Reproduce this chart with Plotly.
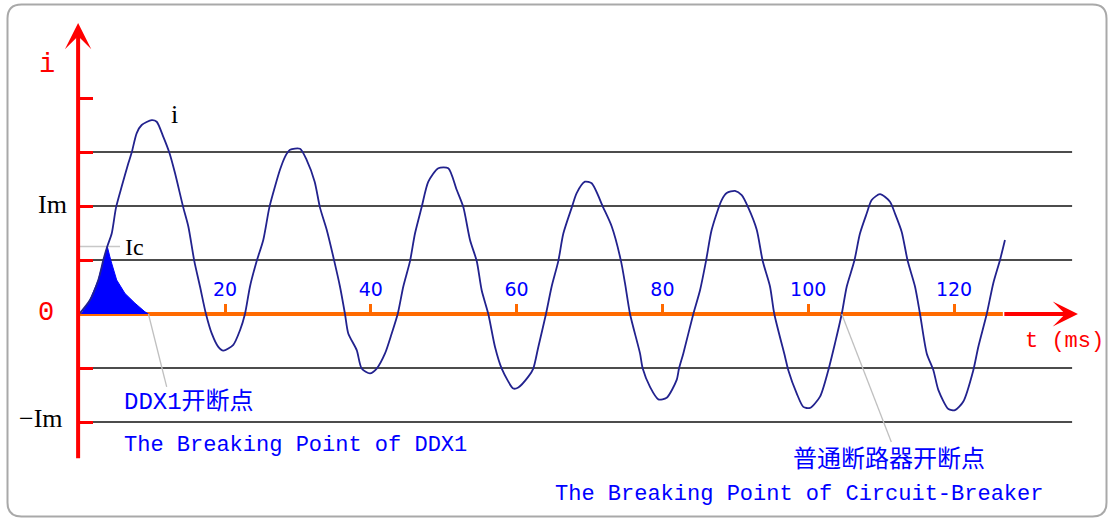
import plotly.graph_objects as go

# ---------------- data (t in ms, current in grid units; Im = 2 units) ----------------
wave_t = [0, 1.48, 2.62, 3.31, 3.85, 4.46, 5.05, 5.83, 6.74, 7.20, 7.89, 8.57, 9.95, 10.63, 11.54, 12.36, 13.14,
          14.28, 14.97, 15.79, 16.57, 17.39, 18.18, 19.08, 19.77,
          21.14, 22.06, 22.74, 23.43, 24.35, 25.25, 26.08, 26.86, 27.54, 28.23, 28.92, 30.29, 31.21, 32.3, 33.03,
          33.95, 34.99, 35.77, 36.46, 36.91, 38.07, 38.75, 39.89, 40.81,
          41.95, 42.87, 43.69, 44.46, 45.38, 46.06, 46.98, 47.89, 49.26, 50.63, 51.78, 52.69, 53.61, 54.53, 55.21,
          56.12, 57.04, 57.96, 59.55, 60.23, 61.61,
          62.29, 62.98, 64.03, 64.81, 65.72, 66.41, 67.56, 68.24, 69.38, 70.30, 71.89, 73.05, 74.32, 74.87, 75.56,
          76.93, 77.30, 78.30, 79.44, 80.59, 81.96,
          82.28, 82.87, 84.24, 85.16, 85.98, 86.76, 88.13, 88.82, 89.96, 90.88, 91.78, 92.94, 93.76, 94.76, 95.35,
          96.82, 97.27, 98.42, 99.33, 100.25, 101.62,
          102.76, 103.68, 104.60, 105.29, 106.32, 107.10, 108.02, 108.71, 109.85, 111.22, 111.91, 112.83, 113.65,
          114.65, 115.34, 116.26, 117.17, 117.86, 119.23, 120.14, 121.28, 122.65, 123.33, 124.49, 125.39, 126.31,
          126.99]
wave_i = [0, 0.26, 0.63, 1.0, 1.25, 1.49, 1.97, 2.36, 2.79, 2.99, 3.35, 3.50, 3.59, 3.56, 3.28, 2.99, 2.61,
          1.97, 1.62, 0.98, 0.51, 0.0, -0.36, -0.61, -0.68,
          -0.57, -0.30, 0.0, 0.51, 0.98, 1.37, 1.97, 2.36, 2.67, 2.91, 3.04, 3.06, 2.85, 2.45, 1.97,
          1.56, 0.98, 0.51, 0.0, -0.36, -0.67, -1.01, -1.10, -1.01,
          -0.73, -0.36, 0.0, 0.51, 0.98, 1.49, 1.98, 2.45, 2.70, 2.70, 2.30, 1.98, 1.37, 0.98, 0.44,
          0.0, -0.61, -1.01, -1.38, -1.36, -1.16,
          -1.01, -0.61, 0.0, 0.51, 0.98, 1.49, 1.97, 2.24, 2.45, 2.42, 1.97, 1.62, 0.98, 0.57, 0.0,
          -0.73, -1.01, -1.35, -1.58, -1.55, -1.22,
          -1.01, -0.73, 0.0, 0.44, 0.98, 1.56, 2.11, 2.24, 2.28, 2.20, 1.97, 1.56, 0.98, 0.51, 0.0,
          -0.79, -1.04, -1.47, -1.72, -1.74, -1.53,
          -1.04, -0.54, 0.0, 0.51, 0.98, 1.49, 1.86, 2.11, 2.22, 2.08, 1.86, 1.52, 0.98,
          0.51, 0.0, -0.73, -1.04, -1.41, -1.76, -1.78, -1.62, -1.04, -0.61, 0.0, 0.57, 1.00,
          1.37]

# DDX1 let-through current (filled area)
ddx1_t = [0.3, 1.48, 2.62, 3.31, 3.85, 4.32, 5.14, 6.28, 7.65, 9.02, 9.5]
ddx1_i = [0, 0.26, 0.63, 1.0, 1.25, 1.0, 0.63, 0.38, 0.20, 0.04, 0]

grid_levels = [3, 2, 1, -1, -2]
x_tick_vals = [20, 40, 60, 80, 100, 120]
y_tick_vals = [-2, -1, 1, 2, 3, 4]
Im = 2
Ic = 1.25
ddx1_break = 9.5
cb_break = 104.6

# ---------------- geometry / style ----------------
W, H = 1114, 521
PX0, PX_PER_MS = 79.2, 7.29     # pixel of t=0, pixels per ms
PY0, PY_PER_U = 314.0, 54.0     # pixel of i=0, pixels per unit
x_range = [-PX0 / PX_PER_MS, (W - PX0) / PX_PER_MS]
y_range = [(PY0 - H) / PY_PER_U, PY0 / PY_PER_U]

BLUE = "#0000ff"
ORANGE = "#ff6a00"
RED = "#ff0000"
WAVE = "#22228e"
MONO = "Liberation Mono"
SERIF = "Liberation Serif"
CJK = "Liberation Mono, Noto Sans CJK SC"

t_axis = -0.15          # y-axis location (ms)
t_grid0, t_grid1 = 1.76, 136.2
t_orange_end, t_arrow_tip = 126.7, 137.0
i_axis_top, i_axis_bottom = 5.39, -2.70

fig = go.Figure()

fig.add_trace(go.Scatter(x=ddx1_t, y=ddx1_i, mode="lines", fill="toself",
                         fillcolor=BLUE, line=dict(color=BLUE, width=1),
                         hoverinfo="skip", showlegend=False))
fig.add_trace(go.Scatter(x=wave_t, y=wave_i, mode="lines",
                         line=dict(color=WAVE, width=1.8, shape="spline", smoothing=0.7),
                         hoverinfo="skip", showlegend=False))

shapes = []
for lv in grid_levels:
    shapes.append(dict(type="line", xref="x", yref="y", x0=t_grid0, x1=t_grid1, y0=lv, y1=lv,
                       line=dict(color="#111111", width=1.6), layer="below"))
# orange time axis
shapes.append(dict(type="line", xref="x", yref="y", x0=t_axis, x1=t_orange_end, y0=0, y1=0,
                   line=dict(color=ORANGE, width=4), layer="below"))
# Ic marker line
shapes.append(dict(type="line", xref="x", yref="y", x0=t_axis, x1=5.6, y0=Ic, y1=Ic,
                   line=dict(color="#c8c8c8", width=1.5), layer="below"))
# leader lines to breaking points
shapes.append(dict(type="line", xref="x", yref="y", x0=ddx1_break, y0=0, x1=12.0, y1=-1.35,
                   line=dict(color="#c0c0c0", width=1.3), layer="above"))
shapes.append(dict(type="line", xref="x", yref="y", x0=cb_break, y0=0, x1=111.4, y1=-2.37,
                   line=dict(color="#c0c0c0", width=1.3), layer="above"))

# rounded frame (paper coords)
L, R, T, B, rad = 7.5 / W, 1106.5 / W, 1 - 4.5 / H, 1 - 516.5 / H, 14
rx, ry = rad / W, rad / H
frame = (f"M{L+rx},{T} L{R-rx},{T} Q{R},{T} {R},{T-ry} L{R},{B+ry} Q{R},{B} {R-rx},{B} "
         f"L{L+rx},{B} Q{L},{B} {L},{B+ry} L{L},{T-ry} Q{L},{T} {L+rx},{T} Z")
shapes.append(dict(type="path", xref="paper", yref="paper", path=frame,
                   line=dict(color="#a9a9a9", width=2), layer="above"))

ann = []
# y axis with arrow
ann.append(dict(x=t_axis, y=i_axis_top, ax=t_axis, ay=i_axis_bottom, xref="x", yref="y",
                axref="x", ayref="y", text="", showarrow=True, arrowhead=3, arrowsize=1.1,
                arrowwidth=4, arrowcolor=RED, standoff=0, startstandoff=0))
# red end of time axis with arrow
ann.append(dict(x=t_arrow_tip, y=0, ax=t_orange_end, ay=0, xref="x", yref="y",
                axref="x", ayref="y", text="", showarrow=True, arrowhead=3, arrowsize=1.05,
                arrowwidth=4, arrowcolor=RED, standoff=0, startstandoff=0))


def label(text, x, y, color, size, family, xanchor="center", yanchor="middle"):
    ann.append(dict(x=x, y=y, xref="x", yref="y", text=text, showarrow=False,
                    xanchor=xanchor, yanchor=yanchor,
                    font=dict(color=color, size=size, family=family)))


label("i", -4.4, 4.61, RED, 27, MONO)
label("0", -4.55, 0.02, RED, 27, MONO)
label("Im", -3.73, Im + 0.02, "#000000", 26, SERIF)
label("\u2212Im", -5.24, -Im + 0.06, "#000000", 26, SERIF)
label("Ic", 5.98, Ic, "#000000", 24, SERIF, xanchor="left")
label("i", 13.1, 3.69, "#000000", 26, SERIF)
label("t (ms)", 129.4, -0.5, RED, 22, MONO, xanchor="left")
label("DDX1开断点", 5.87, -1.63, BLUE, 24, CJK, xanchor="left")
label("The Breaking Point of DDX1", 5.87, -2.43, BLUE, 22, MONO, xanchor="left")
label("普通断路器开断点", 97.6, -2.70, BLUE, 24, CJK, xanchor="left")
label("The Breaking Point of Circuit-Breaker", 65.0, -3.35, BLUE, 22, MONO, xanchor="left")

x_pos = (0 - y_range[0]) / (y_range[1] - y_range[0])
y_pos = (t_axis - x_range[0]) / (x_range[1] - x_range[0])

fig.update_layout(
    width=W, height=H, margin=dict(l=0, r=0, t=0, b=0),
    paper_bgcolor="white", plot_bgcolor="white",
    shapes=shapes, annotations=ann, showlegend=False,
    xaxis=dict(range=x_range, anchor="free", position=x_pos, side="top",
               tickmode="array", tickvals=x_tick_vals, ticks="outside", ticklen=10, tickwidth=3,
               tickcolor=ORANGE, tickfont=dict(color=BLUE, size=19, family="DejaVu Sans"),
               showgrid=False, zeroline=False, showline=False, fixedrange=True),
    yaxis=dict(range=y_range, anchor="free", position=y_pos,
               tickmode="array", tickvals=y_tick_vals, ticks="inside", ticklen=14, tickwidth=3,
               tickcolor=RED, showticklabels=False,
               showgrid=False, zeroline=False, showline=False, fixedrange=True),
)

fig.write_html("out.html", config={"displayModeBar": False},
               post_script="document.body.style.margin='0';")
